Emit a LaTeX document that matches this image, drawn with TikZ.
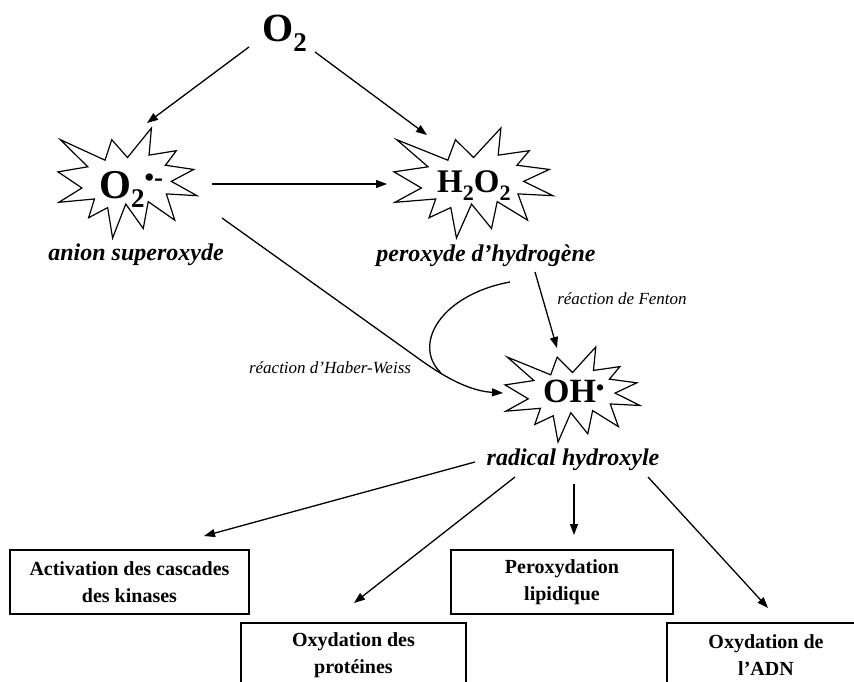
\documentclass[tikz,border=0pt]{standalone}
\usepackage{fontspec}
\setmainfont{Liberation Serif}
\usetikzlibrary{arrows.meta}
\tikzset{
  seal/.style={draw, line width=1.2pt, fill=white, line join=miter},
  arr/.style={line width=1.3pt, -{Triangle[length=11pt,width=8pt]}},
  plain/.style={line width=1.3pt},
  chem/.style={inner sep=0, anchor=base west},
  lab/.style={font=\fontsize{24}{24}\selectfont\bfseries\itshape, inner sep=0},
  rlab/.style={font=\fontsize{17}{17}\selectfont\itshape, inner sep=0},
  box/.style={draw, line width=1.3pt, inner sep=0, align=center, font=\fontsize{20}{27}\selectfont\bfseries},
  explosion/.pic={\path[seal] (108.00,58.00) -- (145.22,0) -- (141.55,53.25) -- (183.80,44.57) -- (167.02,73.15) -- (210.97,81.37) -- (176.07,104.75) -- (216.00,132.90) -- (168.37,129.42) -- (181.45,180.95) -- (140.20,144.57) -- (132.47,197.37) -- (105.32,149.35) -- (84.85,216.00) -- (77.15,156.27) -- (47.62,176.17) -- (56.67,139.37) -- (1.35,145.87) -- (37.22,117.75) -- (0,86.15) -- (46.27,76.17) -- (3.70,22.95) -- (73.12,63.20) -- (83.52,22.95) -- cycle;}
}
\begin{document}
\begin{tikzpicture}[x=1pt,y=-1pt]
\useasboundingbox (0,0) rectangle (854,682);
\clip (0,0) rectangle (854,682);

% starbursts
\pic[xscale=0.6435, yscale=0.5093] at (58,128) {explosion};
\pic[xscale=0.7361, yscale=0.5093] at (394,128) {explosion};
\pic[xscale=0.625, yscale=0.44] at (505,347) {explosion};

% chemical species
\node[chem, font=\fontsize{40}{40}\selectfont\bfseries] (o2) at (262,42)
  {O\raisebox{-10pt}{\fontsize{27}{27}\selectfont 2}};
\node[chem, font=\fontsize{41}{41}\selectfont\bfseries] (sup) at (99,198)
  {O\raisebox{-9pt}{\fontsize{27}{27}\selectfont 2}\raisebox{12pt}{\fontsize{27}{27}\selectfont •-}};
\node[chem, font=\fontsize{33}{33}\selectfont\bfseries] (h2o2) at (437,192)
  {H\raisebox{-8pt}{\fontsize{22}{22}\selectfont 2}O\raisebox{-8pt}{\fontsize{22}{22}\selectfont 2}};
\node[chem, font=\fontsize{34}{34}\selectfont\bfseries] (oh) at (543,402)
  {OH\raisebox{7pt}{\fontsize{23}{23}\selectfont •}};

% labels
\node[lab] (lsup) at (136,255) {anion superoxyde};
\node[lab] (lh2o2) at (486,256) {peroxyde d’hydrogène};
\node[lab] (loh) at (573,460) {radical hydroxyle};
\node[rlab] (fenton) at (622,299) {réaction de Fenton};
\node[rlab] (haber) at (330,368) {réaction d’Haber-Weiss};

% boxes
\node[box, minimum width=239pt, minimum height=64pt] (b1) at (129.5,582) {Activation des cascades\\des kinases};
\node[box, minimum width=222pt, minimum height=64pt] (b2) at (562,582) {Peroxydation\\lipidique};
\node[box, minimum width=225pt, minimum height=64pt] (b3) at (353.5,655) {Oxydation des\\protéines};
\node[box, minimum width=198pt, minimum height=64pt] (b4) at (766,655) {Oxydation de\\l’ADN};

% connector end points
\coordinate (a0) at (249,47);  \coordinate (a1) at (147,123);
\coordinate (b0) at (315,52);  \coordinate (b1e) at (427,135);
\coordinate (c0) at (212,184); \coordinate (c1) at (387,184);
\coordinate (hw0) at (222,218); \coordinate (hw1) at (415,356); \coordinate (hwT) at (503,393);
\coordinate (h0) at (510,282); \coordinate (hm) at (441,373);
\coordinate (f0) at (535,272); \coordinate (fT) at (557,348);
\coordinate (r1) at (475,462); \coordinate (r1t) at (204,536);
\coordinate (r2) at (515,477); \coordinate (r2t) at (354,603);
\coordinate (r3) at (574,484); \coordinate (r3t) at (574,535);
\coordinate (r4) at (648,477); \coordinate (r4t) at (768,608);

% connectors
\draw[arr] (a0) -- (a1);
\draw[arr] (b0) -- (b1e);
\draw[arr] (c0) -- (c1);
\draw[arr] (hw0) -- (hw1) .. controls (445,378) and (470,391) .. (hwT);
\draw[plain] (h0) .. controls (440,295) and (412,345) .. (hm);
\draw[arr] (f0) -- (fT);
\draw[arr] (r1) -- (r1t);
\draw[arr] (r2) -- (r2t);
\draw[arr] (r3) -- (r3t);
\draw[arr] (r4) -- (r4t);
\end{tikzpicture}
\end{document}
